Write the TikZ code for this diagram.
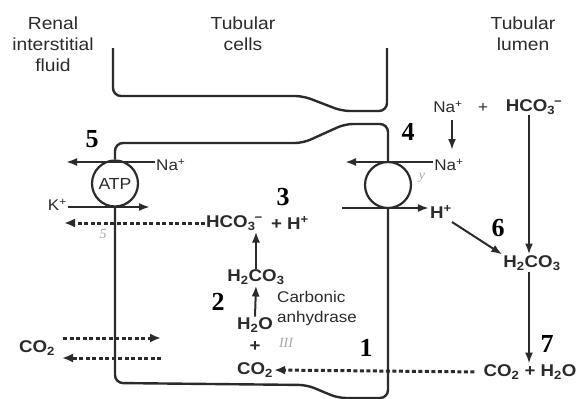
\documentclass[tikz,border=0pt]{standalone}
\usepackage{fontspec}
\setmainfont{Liberation Sans}[FakeStretch=1.1]
\newfontfamily\numfont{Liberation Serif}
\usetikzlibrary{arrows.meta}
\definecolor{ink}{HTML}{2B2B2B}
\definecolor{pencil}{HTML}{A8A8A8}
\newcommand{\ionminus}{\textsuperscript{\kern-1pt−}}
\tikzset{
  wall/.style={draw=ink, line width=2.4pt, rounded corners=8pt},
  arr/.style={draw=ink, line width=2pt, -{Latex[length=11pt,width=8pt]}},
  dotarr/.style={draw=ink, line width=3pt, dash pattern=on 4pt off 2.5pt, -{Latex[length=11pt,width=9pt]}},
  title/.style={font=\fontsize{17.5}{21}\selectfont, text=ink, align=center, inner sep=0pt},
  ion/.style={font=\fontsize{15.5}{17}\selectfont, text=ink, inner sep=1pt},
  chem/.style={font=\fontsize{17}{19}\selectfont\bfseries, text=ink, inner sep=1pt},
  stepnum/.style={font=\numfont\fontsize{26}{26}\selectfont\bfseries, text=black, inner sep=0pt},
  pump/.style={circle, draw=ink, line width=2.2pt, minimum size=46pt, inner sep=0pt, font=\fontsize{16}{17}\selectfont, text=ink},
  scribble/.style={font=\numfont\itshape\fontsize{14}{14}\selectfont, text=pencil, inner sep=0pt}
}
\begin{document}
\begin{tikzpicture}[x=1pt,y=-1pt]
\useasboundingbox[fill=white] (0,0) rectangle (579,399);

% titles
\node[title] (tRenal) at (53,44) {Renal\\interstitial\\fluid};
\node[title] (tCells) at (243,34) {Tubular\\cells};
\node[title] (tLumen) at (523,34) {Tubular\\lumen};

% pumps
\node[pump] (atp) at (115,183.5) {ATP};
\node[pump] (ex) at (388,185) {};

% upper cell outline
\draw[wall] (113,48) -- (113,96) -- (303,96) -- (342,111) -- (387,111) -- (387,48);

% main cell outline
\draw[wall] (atp.north) -- (115,143) -- (303,143) -- (345,124) -- (388,124) -- (ex.north);
\draw[wall] (atp.south) -- (115,383) -- (307,385) -- (338,398) -- (388,398) -- (ex.south);

% step numbers
\node[stepnum] (s5) at (92,139) {5};
\node[stepnum] (s4) at (408,132) {4};
\node[stepnum] (s3) at (283,197) {3};
\node[stepnum] (s6) at (498,228) {6};
\node[stepnum] (s2) at (218,302) {2};
\node[stepnum] (s1) at (366,348) {1};
\node[stepnum] (s7) at (547,344) {7};

% left pump
\node[ion, anchor=west] (naL) at (155,165) {Na\textsuperscript{+}};
\coordinate (naLend) at (66,162);
\draw[arr] (naL.west |- naLend) -- (naLend);
\node[ion, anchor=east] (kL) at (68,205) {K\textsuperscript{+}};
\coordinate (kLend) at (150,207);
\draw[arr] (kL.east |- kLend) -- (kLend);

% cell chemistry
\node[chem, anchor=west] (hco) at (205,223) {HCO\textsubscript{3}\ionminus};
\node[chem, anchor=west, xshift=6pt] (hpC) at (hco.east) {+ H\textsuperscript{+}};
\coordinate (hcoEnd) at (64,223);
\draw[dotarr] (hco.west) -- (hcoEnd);

\node[chem] (h2c) at (256,277) {H\textsubscript{2}CO\textsubscript{3}};
\node[chem] (h2o) at (255,325) {H\textsubscript{2}O};
\node[chem] (plC) at (255,347) {+};
\node[chem] (co2c) at (255,370) {CO\textsubscript{2}};
\draw[arr] (h2o.north) -- (h2c.south);
\draw[arr] (h2c.north) -- (h2c.north |- hco.south);
\node[ion, anchor=west, align=left, font=\fontsize{15.5}{20}\selectfont] (ca) at (276,308) {Carbonic\\anhydrase};

% CO2 diffusion left
\node[chem] (co2l) at (37,348) {CO\textsubscript{2}};
\coordinate (coIn) at (161,338);
\coordinate (coOut) at (62,358);
\draw[dotarr] (63,338) -- (coIn);
\draw[dotarr] (161,358) -- (coOut);

% lumen side
\node[ion] (na1) at (448,107) {Na\textsuperscript{+}};
\node[ion] (plT) at (483,108) {+};
\node[chem] (hcoT) at (534,107) {HCO\textsubscript{3}\ionminus};
\node[ion] (na2) at (449,165) {Na\textsuperscript{+}};
\draw[arr] (452,120) -- (452,150);
\coordinate (naRend) at (345,162);
\draw[arr] (na2.west |- naRend) -- (naRend);

\node[chem] (hpR) at (441,212) {H\textsuperscript{+}};
\coordinate (hpStart) at (342,208);
\draw[arr] (hpStart) -- (hpR.west |- hpStart);

\node[chem] (h2l) at (532,263) {H\textsubscript{2}CO\textsubscript{3}};
\coordinate (ax) at (529,0);
\draw[arr] (hcoT.south -| ax) -- (h2l.north -| ax);
\draw[arr] (452,222) -- (h2l.north west);
\node[chem] (co2h) at (530,372) {CO\textsubscript{2} + H\textsubscript{2}O};
\draw[arr] (h2l.south -| ax) -- (co2h.north -| ax);
\draw[dotarr, shorten <=8pt] (co2h.west) -- (co2c.east);

% pencil marks
\node[scribble] (m5) at (103,234) {5};
\node[scribble] (m3) at (286,343) {III};
\node[scribble] (my) at (422,178) {y};
\end{tikzpicture}
\end{document}
